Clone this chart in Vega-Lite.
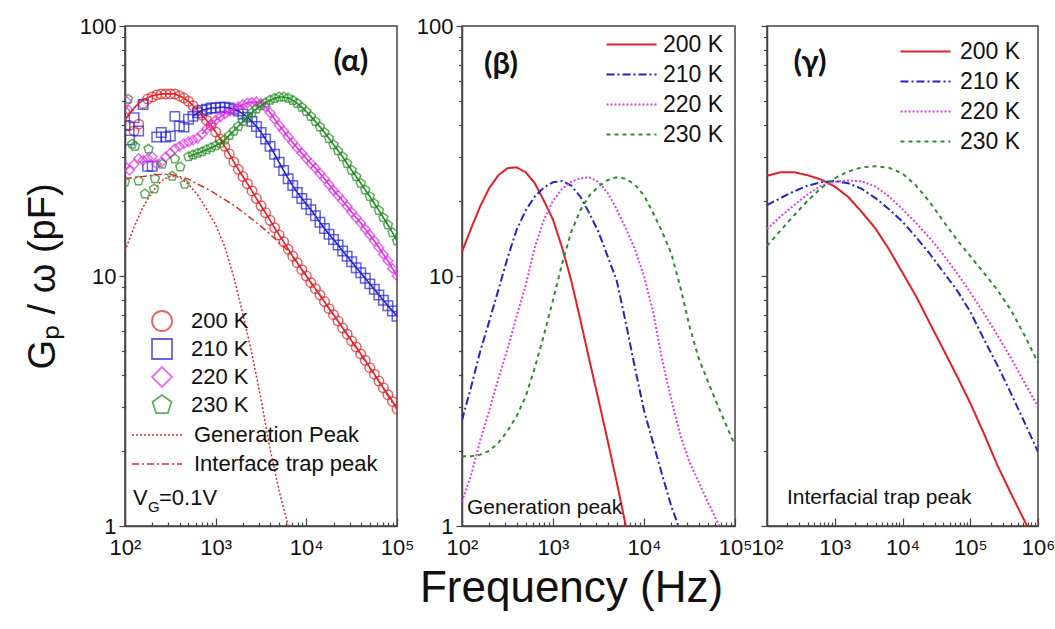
{
  "$schema": "https://vega.github.io/schema/vega-lite/v6.json",
  "background": "white",
  "padding": {"left": 23, "top": 14, "right": 0, "bottom": 5},
  "title": {"text": "Frequency (Hz)", "orient": "bottom", "anchor": "middle", "fontSize": 44, "font": "Liberation Sans", "fontWeight": "normal", "color": "#111", "offset": 8, "dx": 32},
  "config": {
    "font": "Liberation Sans",
    "view": {"stroke": "#444", "strokeWidth": 1.5},
    "axis": {"domainColor": "#444", "domainWidth": 1.5, "tickColor": "#444", "tickWidth": 1.2, "labelFont": "Liberation Sans", "labelFontSize": 22, "labelColor": "#111", "grid": false, "titleFont": "Liberation Sans", "titleColor": "#111", "labelFlush": false, "labelOverlap": false},
    "legend": {"labelFont": "Liberation Sans", "labelFontSize": 22, "labelColor": "#111", "padding": 0, "labelLimit": 400}
  },
  "datasets": {
    "am": [
      {"T":"200 K","f":100,"g":45,"fit":42},{"T":"200 K","f":112.2,"g":40,"fit":44.8},{"T":"200 K","f":125.9,"g":38,"fit":47},{"T":"200 K","f":141.3,"g":40.5,"fit":49},{"T":"200 K","f":158.5,"g":49,"fit":50.5},{"T":"200 K","f":177.8,"g":51,"fit":51.7},{"T":"200 K","f":199.5,"g":52,"fit":52.5},{"T":"200 K","f":223.9,"g":53,"fit":53.1},{"T":"200 K","f":251.2,"g":53.5,"fit":53.5},{"T":"200 K","f":281.8,"g":53.5,"fit":53.5},
      {"T":"200 K","f":316.2,"g":53.5,"fit":53.5},{"T":"200 K","f":354.8,"g":53.5,"fit":53.5},{"T":"200 K","f":398.1,"g":52.5,"fit":52.5},{"T":"200 K","f":446.7,"g":51.5,"fit":51.5},{"T":"200 K","f":501.2,"g":50,"fit":50},{"T":"200 K","f":562.3,"g":48,"fit":48},{"T":"200 K","f":631,"g":46,"fit":46},{"T":"200 K","f":707.9,"g":44,"fit":44},{"T":"200 K","f":794.3,"g":42,"fit":42},{"T":"200 K","f":891.3,"g":40,"fit":40},
      {"T":"200 K","f":1000,"g":37.7,"fit":37.7},{"T":"200 K","f":1122,"g":35.3,"fit":35.3},{"T":"200 K","f":1259,"g":33,"fit":33},{"T":"200 K","f":1413,"g":30.8,"fit":30.8},{"T":"200 K","f":1585,"g":28.6,"fit":28.6},{"T":"200 K","f":1778,"g":26.7,"fit":26.7},{"T":"200 K","f":1995,"g":25,"fit":25},{"T":"200 K","f":2239,"g":23.4,"fit":23.4},{"T":"200 K","f":2512,"g":21.9,"fit":21.9},{"T":"200 K","f":2818,"g":20.4,"fit":20.4},
      {"T":"200 K","f":3162,"g":19.1,"fit":19.1},{"T":"200 K","f":3548,"g":17.9,"fit":17.9},{"T":"200 K","f":3981,"g":16.7,"fit":16.7},{"T":"200 K","f":4467,"g":15.6,"fit":15.6},{"T":"200 K","f":5012,"g":14.6,"fit":14.6},{"T":"200 K","f":5623,"g":13.7,"fit":13.7},{"T":"200 K","f":6310,"g":12.8,"fit":12.8},{"T":"200 K","f":7079,"g":12,"fit":12},{"T":"200 K","f":7943,"g":11.3,"fit":11.3},{"T":"200 K","f":8913,"g":10.6,"fit":10.6},
      {"T":"200 K","f":10000,"g":10,"fit":10},{"T":"200 K","f":11220,"g":9.4,"fit":9.4},{"T":"200 K","f":12589,"g":8.9,"fit":8.9},{"T":"200 K","f":14125,"g":8.4,"fit":8.4},{"T":"200 K","f":15849,"g":7.9,"fit":7.9},{"T":"200 K","f":17783,"g":7.4,"fit":7.4},{"T":"200 K","f":19953,"g":7,"fit":7},{"T":"200 K","f":22387,"g":6.6,"fit":6.6},{"T":"200 K","f":25119,"g":6.2,"fit":6.2},{"T":"200 K","f":28184,"g":5.85,"fit":5.85},
      {"T":"200 K","f":31623,"g":5.5,"fit":5.5},{"T":"200 K","f":35481,"g":5.2,"fit":5.2},{"T":"200 K","f":39811,"g":4.88,"fit":4.88},{"T":"200 K","f":44668,"g":4.6,"fit":4.6},{"T":"200 K","f":50119,"g":4.3,"fit":4.3},{"T":"200 K","f":56234,"g":4.05,"fit":4.05},{"T":"200 K","f":63096,"g":3.8,"fit":3.8},{"T":"200 K","f":70795,"g":3.57,"fit":3.57},{"T":"200 K","f":79433,"g":3.35,"fit":3.35},{"T":"200 K","f":89125,"g":3.15,"fit":3.15},{"T":"200 K","f":100000,"g":2.94,"fit":2.94},

      {"T":"210 K","f":100,"g":40},{"T":"210 K","f":112.2,"g":35},{"T":"210 K","f":125.9,"g":43},{"T":"210 K","f":141.3,"g":38},{"T":"210 K","f":158.5,"g":48.5},{"T":"210 K","f":177.8,"g":27.5},{"T":"210 K","f":199.5,"g":27.5},{"T":"210 K","f":223.9,"g":36},{"T":"210 K","f":251.2,"g":37.5},{"T":"210 K","f":281.8,"g":36},
      {"T":"210 K","f":316.2,"g":36.3},{"T":"210 K","f":354.8,"g":43.5},{"T":"210 K","f":398.1,"g":39.8},{"T":"210 K","f":446.7,"g":39.4},{"T":"210 K","f":501.2,"g":42.4},{"T":"210 K","f":562.3,"g":43.5,"fit":43.5},{"T":"210 K","f":631,"g":45,"fit":45},{"T":"210 K","f":707.9,"g":46,"fit":46},{"T":"210 K","f":794.3,"g":46.5,"fit":46.5},{"T":"210 K","f":891.3,"g":47,"fit":47},
      {"T":"210 K","f":1000,"g":47,"fit":47},{"T":"210 K","f":1122,"g":47.3,"fit":47.3},{"T":"210 K","f":1259,"g":47.3,"fit":47.3},{"T":"210 K","f":1413,"g":47,"fit":47},{"T":"210 K","f":1585,"g":46.5,"fit":46.5},{"T":"210 K","f":1778,"g":45.7,"fit":45.7},{"T":"210 K","f":1995,"g":44.5,"fit":44.5},{"T":"210 K","f":2239,"g":43.2,"fit":43.2},{"T":"210 K","f":2512,"g":41.5,"fit":41.5},{"T":"210 K","f":2818,"g":39.6,"fit":39.6},
      {"T":"210 K","f":3162,"g":37.5,"fit":37.5},{"T":"210 K","f":3548,"g":35.3,"fit":35.3},{"T":"210 K","f":3981,"g":33,"fit":33},{"T":"210 K","f":4467,"g":30.7,"fit":30.7},{"T":"210 K","f":5012,"g":28.5,"fit":28.5},{"T":"210 K","f":5623,"g":26.4,"fit":26.4},{"T":"210 K","f":6310,"g":24.5,"fit":24.5},{"T":"210 K","f":7079,"g":23,"fit":23},{"T":"210 K","f":7943,"g":21.6,"fit":21.6},{"T":"210 K","f":8913,"g":20.4,"fit":20.4},
      {"T":"210 K","f":10000,"g":19.4,"fit":19.4},{"T":"210 K","f":11220,"g":18.4,"fit":18.4},{"T":"210 K","f":12589,"g":17.4,"fit":17.4},{"T":"210 K","f":14125,"g":16.4,"fit":16.4},{"T":"210 K","f":15849,"g":15.5,"fit":15.5},{"T":"210 K","f":17783,"g":14.7,"fit":14.7},{"T":"210 K","f":19953,"g":14,"fit":14},{"T":"210 K","f":22387,"g":13.3,"fit":13.3},{"T":"210 K","f":25119,"g":12.6,"fit":12.6},{"T":"210 K","f":28184,"g":12,"fit":12},
      {"T":"210 K","f":31623,"g":11.4,"fit":11.4},{"T":"210 K","f":35481,"g":10.8,"fit":10.8},{"T":"210 K","f":39811,"g":10.3,"fit":10.3},{"T":"210 K","f":44668,"g":9.8,"fit":9.8},{"T":"210 K","f":50119,"g":9.3,"fit":9.3},{"T":"210 K","f":56234,"g":8.85,"fit":8.85},{"T":"210 K","f":63096,"g":8.4,"fit":8.4},{"T":"210 K","f":70795,"g":8,"fit":8},{"T":"210 K","f":79433,"g":7.6,"fit":7.6},{"T":"210 K","f":89125,"g":7.25,"fit":7.25},{"T":"210 K","f":100000,"g":6.9,"fit":6.9},

      {"T":"220 K","f":104,"g":50},{"T":"220 K","f":110,"g":46},
      {"T":"220 K","f":100,"g":27.5},{"T":"220 K","f":112.2,"g":26.5},{"T":"220 K","f":125.9,"g":28},{"T":"220 K","f":141.3,"g":29.5},{"T":"220 K","f":158.5,"g":29},{"T":"220 K","f":177.8,"g":29.5},{"T":"220 K","f":199.5,"g":30},{"T":"220 K","f":223.9,"g":28},{"T":"220 K","f":251.2,"g":28.5},{"T":"220 K","f":281.8,"g":30},
      {"T":"220 K","f":316.2,"g":31},{"T":"220 K","f":354.8,"g":32.3},{"T":"220 K","f":398.1,"g":33},{"T":"220 K","f":446.7,"g":33.8},{"T":"220 K","f":501.2,"g":34.4},{"T":"220 K","f":562.3,"g":35},{"T":"220 K","f":631,"g":35.6},{"T":"220 K","f":707.9,"g":37,"fit":37},{"T":"220 K","f":794.3,"g":38.8,"fit":38.8},{"T":"220 K","f":891.3,"g":40.5,"fit":40.5},
      {"T":"220 K","f":1000,"g":42,"fit":42},{"T":"220 K","f":1122,"g":43.3,"fit":43.3},{"T":"220 K","f":1259,"g":44.5,"fit":44.5},{"T":"220 K","f":1413,"g":45.5,"fit":45.5},{"T":"220 K","f":1585,"g":46.5,"fit":46.5},{"T":"220 K","f":1778,"g":47.5,"fit":47.5},{"T":"220 K","f":1995,"g":48.5,"fit":48.5},{"T":"220 K","f":2239,"g":49.2,"fit":49.2},{"T":"220 K","f":2512,"g":49.5,"fit":49.5},{"T":"220 K","f":2818,"g":49.7,"fit":49.7},
      {"T":"220 K","f":3162,"g":49,"fit":49},{"T":"220 K","f":3548,"g":47.5,"fit":47.5},{"T":"220 K","f":3981,"g":45,"fit":45},{"T":"220 K","f":4467,"g":42.4,"fit":42.4},{"T":"220 K","f":5012,"g":40,"fit":40},{"T":"220 K","f":5623,"g":38,"fit":38},{"T":"220 K","f":6310,"g":36,"fit":36},{"T":"220 K","f":7079,"g":34.2,"fit":34.2},{"T":"220 K","f":7943,"g":32.5,"fit":32.5},{"T":"220 K","f":8913,"g":31,"fit":31},
      {"T":"220 K","f":10000,"g":29.5,"fit":29.5},{"T":"220 K","f":11220,"g":28.2,"fit":28.2},{"T":"220 K","f":12589,"g":27,"fit":27},{"T":"220 K","f":14125,"g":25.7,"fit":25.7},{"T":"220 K","f":15849,"g":24.5,"fit":24.5},{"T":"220 K","f":17783,"g":23.2,"fit":23.2},{"T":"220 K","f":19953,"g":22,"fit":22},{"T":"220 K","f":22387,"g":21,"fit":21},{"T":"220 K","f":25119,"g":20,"fit":20},{"T":"220 K","f":28184,"g":19,"fit":19},
      {"T":"220 K","f":31623,"g":18,"fit":18},{"T":"220 K","f":35481,"g":17.1,"fit":17.1},{"T":"220 K","f":39811,"g":16.3,"fit":16.3},{"T":"220 K","f":44668,"g":15.4,"fit":15.4},{"T":"220 K","f":50119,"g":14.6,"fit":14.6},{"T":"220 K","f":56234,"g":13.8,"fit":13.8},{"T":"220 K","f":63096,"g":13,"fit":13},{"T":"220 K","f":70795,"g":12.2,"fit":12.2},{"T":"220 K","f":79433,"g":11.5,"fit":11.5},{"T":"220 K","f":89125,"g":10.7,"fit":10.7},{"T":"220 K","f":100000,"g":10,"fit":10},

      {"T":"230 K","f":100,"g":23.8},{"T":"230 K","f":108,"g":51},{"T":"230 K","f":120,"g":33.7},{"T":"230 K","f":129,"g":33},{"T":"230 K","f":141,"g":24},{"T":"230 K","f":166,"g":21.3},{"T":"230 K","f":182,"g":32.2},{"T":"230 K","f":209,"g":22.3},{"T":"230 K","f":214,"g":24.5},{"T":"230 K","f":257,"g":28},{"T":"230 K","f":331,"g":25.1},{"T":"230 K","f":355,"g":29.4},{"T":"230 K","f":407,"g":27.3},{"T":"230 K","f":457,"g":23.3},
      {"T":"230 K","f":501.2,"g":30,"fit":30},{"T":"230 K","f":562.3,"g":30.5,"fit":30.5},{"T":"230 K","f":631,"g":31,"fit":31},{"T":"230 K","f":707.9,"g":31.4,"fit":31.4},{"T":"230 K","f":794.3,"g":32,"fit":32},{"T":"230 K","f":891.3,"g":32.6,"fit":32.6},
      {"T":"230 K","f":1000,"g":33.2,"fit":33.2},{"T":"230 K","f":1122,"g":34,"fit":34},{"T":"230 K","f":1259,"g":35,"fit":35},{"T":"230 K","f":1413,"g":36.5,"fit":36.5},{"T":"230 K","f":1585,"g":38,"fit":38},{"T":"230 K","f":1778,"g":39.7,"fit":39.7},{"T":"230 K","f":1995,"g":41.5,"fit":41.5},{"T":"230 K","f":2239,"g":43.3,"fit":43.3},{"T":"230 K","f":2512,"g":45,"fit":45},{"T":"230 K","f":2818,"g":46.6,"fit":46.6},
      {"T":"230 K","f":3162,"g":48,"fit":48},{"T":"230 K","f":3548,"g":49.3,"fit":49.3},{"T":"230 K","f":3981,"g":50.5,"fit":50.5},{"T":"230 K","f":4467,"g":51.3,"fit":51.3},{"T":"230 K","f":5012,"g":52,"fit":52},{"T":"230 K","f":5623,"g":52,"fit":52},{"T":"230 K","f":6310,"g":51.5,"fit":51.5},{"T":"230 K","f":7079,"g":50.4,"fit":50.4},{"T":"230 K","f":7943,"g":49,"fit":49},{"T":"230 K","f":8913,"g":47.3,"fit":47.3},
      {"T":"230 K","f":10000,"g":45.5,"fit":45.5},{"T":"230 K","f":11220,"g":43.5,"fit":43.5},{"T":"230 K","f":12589,"g":41.5,"fit":41.5},{"T":"230 K","f":14125,"g":39.5,"fit":39.5},{"T":"230 K","f":15849,"g":37.5,"fit":37.5},{"T":"230 K","f":17783,"g":35.5,"fit":35.5},{"T":"230 K","f":19953,"g":33.5,"fit":33.5},{"T":"230 K","f":22387,"g":31.7,"fit":31.7},{"T":"230 K","f":25119,"g":30,"fit":30},{"T":"230 K","f":28184,"g":28.2,"fit":28.2},
      {"T":"230 K","f":31623,"g":26.5,"fit":26.5},{"T":"230 K","f":35481,"g":25,"fit":25},{"T":"230 K","f":39811,"g":23.5,"fit":23.5},{"T":"230 K","f":44668,"g":22.1,"fit":22.1},{"T":"230 K","f":50119,"g":20.8,"fit":20.8},{"T":"230 K","f":56234,"g":19.5,"fit":19.5},{"T":"230 K","f":63096,"g":18.3,"fit":18.3},{"T":"230 K","f":70795,"g":17.1,"fit":17.1},{"T":"230 K","f":79433,"g":16,"fit":16},{"T":"230 K","f":89125,"g":14.9,"fit":14.9},{"T":"230 K","f":100000,"g":13.8,"fit":13.8}
    ],
    "gi": [
      {"k":"Generation Peak","f":100,"g":12.6},{"k":"Generation Peak","f":125.9,"g":15.7},{"k":"Generation Peak","f":158.5,"g":18.9},{"k":"Generation Peak","f":199.5,"g":21.7},{"k":"Generation Peak","f":251.2,"g":24},{"k":"Generation Peak","f":316.2,"g":25.1},{"k":"Generation Peak","f":398.1,"g":24.9},{"k":"Generation Peak","f":501.2,"g":23.3},{"k":"Generation Peak","f":631,"g":21.1},{"k":"Generation Peak","f":794.3,"g":18.5},{"k":"Generation Peak","f":1000,"g":16},{"k":"Generation Peak","f":1259,"g":13.1},{"k":"Generation Peak","f":1585,"g":9.9},{"k":"Generation Peak","f":1995,"g":7.05},{"k":"Generation Peak","f":2512,"g":4.88},{"k":"Generation Peak","f":3162,"g":3.22},{"k":"Generation Peak","f":3981,"g":2.03},{"k":"Generation Peak","f":5012,"g":1.38},{"k":"Generation Peak","f":6310,"g":1},{"k":"Generation Peak","f":7943,"g":0.7},
      {"k":"Interface trap peak","f":100,"g":24.5},{"k":"Interface trap peak","f":125.9,"g":24.8},{"k":"Interface trap peak","f":158.5,"g":25},{"k":"Interface trap peak","f":199.5,"g":25.3},{"k":"Interface trap peak","f":251.2,"g":25.5},{"k":"Interface trap peak","f":316.2,"g":25.5},{"k":"Interface trap peak","f":398.1,"g":25},{"k":"Interface trap peak","f":501.2,"g":24.4},{"k":"Interface trap peak","f":631,"g":23.3},{"k":"Interface trap peak","f":794.3,"g":22.4},{"k":"Interface trap peak","f":1000,"g":21.3},{"k":"Interface trap peak","f":1259,"g":20.2},{"k":"Interface trap peak","f":1585,"g":19.2},{"k":"Interface trap peak","f":1995,"g":18},{"k":"Interface trap peak","f":2512,"g":16.9},{"k":"Interface trap peak","f":3162,"g":15.8},{"k":"Interface trap peak","f":3981,"g":14.7},{"k":"Interface trap peak","f":5012,"g":13.6},{"k":"Interface trap peak","f":6310,"g":12.6},{"k":"Interface trap peak","f":7943,"g":11.3},{"k":"Interface trap peak","f":10000,"g":10},{"k":"Interface trap peak","f":15849,"g":7.9},{"k":"Interface trap peak","f":25119,"g":6.2},{"k":"Interface trap peak","f":39811,"g":4.85},{"k":"Interface trap peak","f":63096,"g":3.78},{"k":"Interface trap peak","f":100000,"g":2.92}
    ],
    "b": [
      {"T":"200 K","f":100,"g":12.5},{"T":"200 K","f":125.9,"g":15.5},{"T":"200 K","f":158.5,"g":19},{"T":"200 K","f":199.5,"g":22.5},{"T":"200 K","f":251.2,"g":25.3},{"T":"200 K","f":316.2,"g":27},{"T":"200 K","f":398.1,"g":27.2},{"T":"200 K","f":501.2,"g":26},{"T":"200 K","f":631,"g":23.5},{"T":"200 K","f":794.3,"g":20},{"T":"200 K","f":1000,"g":16.8},{"T":"200 K","f":1259,"g":13},{"T":"200 K","f":1585,"g":9.6},{"T":"200 K","f":1995,"g":6.7},{"T":"200 K","f":2512,"g":4.6},{"T":"200 K","f":3162,"g":3.2},{"T":"200 K","f":3981,"g":2.2},{"T":"200 K","f":5012,"g":1.5},{"T":"200 K","f":6310,"g":1},{"T":"200 K","f":7943,"g":0.68},
      {"T":"210 K","f":100,"g":2.65},{"T":"210 K","f":125.9,"g":3.6},{"T":"210 K","f":158.5,"g":5},{"T":"210 K","f":199.5,"g":6.6},{"T":"210 K","f":251.2,"g":8.8},{"T":"210 K","f":316.2,"g":11.8},{"T":"210 K","f":398.1,"g":15.3},{"T":"210 K","f":501.2,"g":18.3},{"T":"210 K","f":631,"g":20.8},{"T":"210 K","f":794.3,"g":22.6},{"T":"210 K","f":1000,"g":23.7},{"T":"210 K","f":1259,"g":24},{"T":"210 K","f":1585,"g":23},{"T":"210 K","f":1995,"g":20.8},{"T":"210 K","f":2512,"g":17.8},{"T":"210 K","f":3162,"g":15},{"T":"210 K","f":3981,"g":12},{"T":"210 K","f":5012,"g":9.6},{"T":"210 K","f":6310,"g":6.5},{"T":"210 K","f":7943,"g":4.3},{"T":"210 K","f":10000,"g":2.9},{"T":"210 K","f":12589,"g":2.15},{"T":"210 K","f":15849,"g":1.6},{"T":"210 K","f":19953,"g":1.2},{"T":"210 K","f":25119,"g":0.95},{"T":"210 K","f":31623,"g":0.75},
      {"T":"220 K","f":100,"g":1.25},{"T":"220 K","f":125.9,"g":1.6},{"T":"220 K","f":158.5,"g":2.2},{"T":"220 K","f":199.5,"g":2.9},{"T":"220 K","f":251.2,"g":3.9},{"T":"220 K","f":316.2,"g":5.1},{"T":"220 K","f":398.1,"g":6.9},{"T":"220 K","f":501.2,"g":9.2},{"T":"220 K","f":631,"g":13},{"T":"220 K","f":794.3,"g":16.8},{"T":"220 K","f":1000,"g":20},{"T":"220 K","f":1259,"g":22.3},{"T":"220 K","f":1585,"g":23.8},{"T":"220 K","f":1995,"g":24.6},{"T":"220 K","f":2512,"g":24.8},{"T":"220 K","f":3162,"g":23.8},{"T":"220 K","f":3981,"g":21.5},{"T":"220 K","f":5012,"g":18.5},{"T":"220 K","f":6310,"g":15.5},{"T":"220 K","f":7943,"g":12.8},{"T":"220 K","f":10000,"g":10},{"T":"220 K","f":12589,"g":7.2},{"T":"220 K","f":15849,"g":4.6},{"T":"220 K","f":19953,"g":3.2},{"T":"220 K","f":25119,"g":2.3},{"T":"220 K","f":31623,"g":1.8},{"T":"220 K","f":39811,"g":1.5},{"T":"220 K","f":50119,"g":1.25},{"T":"220 K","f":63096,"g":1.05},{"T":"220 K","f":79433,"g":0.9},
      {"T":"230 K","f":100,"g":1.9},{"T":"230 K","f":125.9,"g":1.9},{"T":"230 K","f":158.5,"g":1.93},{"T":"230 K","f":199.5,"g":2},{"T":"230 K","f":251.2,"g":2.15},{"T":"230 K","f":316.2,"g":2.4},{"T":"230 K","f":398.1,"g":2.75},{"T":"230 K","f":501.2,"g":3.3},{"T":"230 K","f":631,"g":4.3},{"T":"230 K","f":794.3,"g":5.8},{"T":"230 K","f":1000,"g":8},{"T":"230 K","f":1259,"g":11.2},{"T":"230 K","f":1585,"g":15},{"T":"230 K","f":1995,"g":18.3},{"T":"230 K","f":2512,"g":21},{"T":"230 K","f":3162,"g":22.8},{"T":"230 K","f":3981,"g":24.2},{"T":"230 K","f":5012,"g":24.8},{"T":"230 K","f":6310,"g":24.5},{"T":"230 K","f":7943,"g":23.2},{"T":"230 K","f":10000,"g":21},{"T":"230 K","f":12589,"g":17.9},{"T":"230 K","f":15849,"g":15},{"T":"230 K","f":19953,"g":12.3},{"T":"230 K","f":25119,"g":9},{"T":"230 K","f":31623,"g":6.3},{"T":"230 K","f":39811,"g":4.7},{"T":"230 K","f":50119,"g":3.8},{"T":"230 K","f":63096,"g":3.1},{"T":"230 K","f":79433,"g":2.55},{"T":"230 K","f":100000,"g":2.1}
    ],
    "c": [
      {"T":"200 K","f":100,"g":25.2},{"T":"200 K","f":158.5,"g":26},{"T":"200 K","f":251.2,"g":26},{"T":"200 K","f":398.1,"g":25.3},{"T":"200 K","f":631,"g":24.3},{"T":"200 K","f":1000,"g":22.8},{"T":"200 K","f":1585,"g":20.7},{"T":"200 K","f":2512,"g":18},{"T":"200 K","f":3981,"g":15.5},{"T":"200 K","f":6310,"g":12.8},{"T":"200 K","f":10000,"g":10.3},{"T":"200 K","f":15849,"g":8.3},{"T":"200 K","f":25119,"g":6.5},{"T":"200 K","f":39811,"g":5.1},{"T":"200 K","f":63096,"g":4},{"T":"200 K","f":100000,"g":3.1},{"T":"200 K","f":158489,"g":2.35},{"T":"200 K","f":251189,"g":1.75},{"T":"200 K","f":398107,"g":1.35},{"T":"200 K","f":630957,"g":1.05},{"T":"200 K","f":1000000,"g":0.82},
      {"T":"210 K","f":100,"g":19.2},{"T":"210 K","f":158.5,"g":20.5},{"T":"210 K","f":251.2,"g":21.8},{"T":"210 K","f":398.1,"g":23},{"T":"210 K","f":631,"g":23.7},{"T":"210 K","f":1000,"g":24},{"T":"210 K","f":1585,"g":23.5},{"T":"210 K","f":2512,"g":22.3},{"T":"210 K","f":3981,"g":20.5},{"T":"210 K","f":6310,"g":18.5},{"T":"210 K","f":10000,"g":16.5},{"T":"210 K","f":15849,"g":14.3},{"T":"210 K","f":25119,"g":12.3},{"T":"210 K","f":39811,"g":10.4},{"T":"210 K","f":63096,"g":8.8},{"T":"210 K","f":100000,"g":7.2},{"T":"210 K","f":158489,"g":5.6},{"T":"210 K","f":251189,"g":4.4},{"T":"210 K","f":398107,"g":3.4},{"T":"210 K","f":630957,"g":2.6},{"T":"210 K","f":1000000,"g":1.98},
      {"T":"220 K","f":100,"g":15.4},{"T":"220 K","f":158.5,"g":17.3},{"T":"220 K","f":251.2,"g":19.2},{"T":"220 K","f":398.1,"g":21.2},{"T":"220 K","f":631,"g":23},{"T":"220 K","f":1000,"g":23.8},{"T":"220 K","f":1585,"g":24.1},{"T":"220 K","f":2512,"g":23.9},{"T":"220 K","f":3981,"g":22.8},{"T":"220 K","f":6310,"g":20.8},{"T":"220 K","f":10000,"g":18.5},{"T":"220 K","f":15849,"g":16.3},{"T":"220 K","f":25119,"g":14.2},{"T":"220 K","f":39811,"g":12.2},{"T":"220 K","f":63096,"g":10.3},{"T":"220 K","f":100000,"g":8.6},{"T":"220 K","f":158489,"g":7.1},{"T":"220 K","f":251189,"g":5.8},{"T":"220 K","f":398107,"g":4.7},{"T":"220 K","f":630957,"g":3.75},{"T":"220 K","f":1000000,"g":3.0},
      {"T":"230 K","f":100,"g":13.2},{"T":"230 K","f":158.5,"g":15.2},{"T":"230 K","f":251.2,"g":17.5},{"T":"230 K","f":398.1,"g":20},{"T":"230 K","f":631,"g":22.5},{"T":"230 K","f":1000,"g":24.6},{"T":"230 K","f":1585,"g":26.2},{"T":"230 K","f":2512,"g":27.2},{"T":"230 K","f":3981,"g":27.5},{"T":"230 K","f":6310,"g":27.1},{"T":"230 K","f":10000,"g":25.7},{"T":"230 K","f":15849,"g":23},{"T":"230 K","f":25119,"g":19.8},{"T":"230 K","f":39811,"g":16.6},{"T":"230 K","f":63096,"g":14},{"T":"230 K","f":100000,"g":12},{"T":"230 K","f":158489,"g":10.3},{"T":"230 K","f":251189,"g":8.8},{"T":"230 K","f":398107,"g":7.3},{"T":"230 K","f":630957,"g":5.8},{"T":"230 K","f":1000000,"g":4.5}
    ]
  },
  "spacing": 65,
  "bounds": "flush",
  "resolve": {"scale": {"color": "independent", "shape": "independent", "strokeDash": "independent"}, "legend": {"color": "independent", "shape": "independent", "strokeDash": "independent"}},
  "hconcat": [
    {
      "width": 272, "height": 500,
      "resolve": {"axis": {"x": "independent", "y": "independent"}},
      "layer": [
        {
          "data": {"name": "am"},
          "mark": {"type": "point", "filled": false, "size": 90, "strokeWidth": 1.5, "clip": true},
          "encoding": {
            "x": {"field": "f", "type": "quantitative", "scale": {"type": "log", "domain": [100, 100000]},
                  "axis": {"orient": "bottom", "values": [100, 1000, 10000, 100000], "labelExpr": "datum.value==100?'10²':datum.value==1000?'10³':datum.value==10000?'10⁴':datum.value==100000?'10⁵':'10⁶'", "tickSize": -8, "labelPadding": 19, "title": null}},
            "y": {"field": "g", "type": "quantitative", "scale": {"type": "log", "domain": [1, 100]},
                  "axis": {"orient": "left", "values": [1, 10, 100], "labelExpr": "format(datum.value,'d')", "tickSize": 6, "labelPadding": 3, "title": "Gₚ / ω (pF)", "titleFontSize": 38, "titleFontWeight": "normal", "titlePadding": 17}},
            "color": {"field": "T", "type": "nominal", "scale": {"domain": ["200 K", "210 K", "220 K", "230 K"], "range": ["#e41f26", "#2323d3", "#e22ee6", "#228b22"]},
                      "legend": {"title": null, "orient": "none", "legendX": 26, "legendY": 284, "symbolSize": 400, "symbolStrokeWidth": 1.8, "labelOffset": 18, "rowPadding": 0}},
            "shape": {"field": "T", "type": "nominal", "scale": {"domain": ["200 K", "210 K", "220 K", "230 K"], "range": ["circle", "square", "diamond", "M0,-1L0.951,-0.309L0.588,0.809L-0.588,0.809L-0.951,-0.309Z"]},
                      "legend": {"title": null, "orient": "none", "legendX": 26, "legendY": 284, "symbolSize": 400, "symbolStrokeWidth": 1.8, "labelOffset": 18, "rowPadding": 0}}
          }
        },
        {
          "data": {"name": "am"},
          "transform": [{"filter": "isValid(datum.fit)"}],
          "mark": {"type": "line", "strokeWidth": 1.6, "clip": true},
          "encoding": {
            "x": {"field": "f", "type": "quantitative", "axis": {"orient": "bottom", "values": [200,300,400,500,600,700,800,900,2000,3000,4000,5000,6000,7000,8000,9000,20000,30000,40000,50000,60000,70000,80000,90000], "tickSize": -4, "labels": false, "domain": false, "title": null}},
            "y": {"field": "fit", "type": "quantitative", "axis": {"orient": "left", "values": [2,3,4,5,6,7,8,9,20,30,40,50,60,70,80,90], "tickSize": 3.5, "labels": false, "domain": false, "title": null}},
            "color": {"field": "T", "type": "nominal", "legend": null}
          }
        },
        {
          "data": {"name": "gi"},
          "mark": {"type": "line", "strokeWidth": 1.5, "color": "#d62f2f", "clip": true},
          "encoding": {
            "x": {"field": "f", "type": "quantitative", "axis": null},
            "y": {"field": "g", "type": "quantitative", "axis": null},
            "strokeDash": {"field": "k", "type": "nominal", "scale": {"domain": ["Generation Peak", "Interface trap peak"], "range": [[2, 2], [7, 3, 2, 3]]},
                           "legend": {"title": null, "orient": "none", "legendX": 21, "legendY": 398, "symbolType": "M-2.5,0H2.5", "symbolSize": 400, "symbolStrokeColor": "#d62f2f", "symbolStrokeWidth": 1.6, "labelOffset": 26, "rowPadding": 7}}
          }
        },
        {
          "data": {"values": [{"f": 31000, "g": 72, "t": "(α)"}]},
          "mark": {"type": "text", "font": "Lato", "fontWeight": "bold", "fontSize": 31, "color": "#111"},
          "encoding": {"x": {"field": "f", "type": "quantitative", "axis": null}, "y": {"field": "g", "type": "quantitative", "axis": null}, "text": {"field": "t"}}
        },
        {
          "data": {"values": [{"f": 122.5, "g": 1.21}]},
          "layer": [
            {"mark": {"type": "text", "text": "V", "align": "left", "baseline": "alphabetic", "fontSize": 22, "color": "#111"}},
            {"mark": {"type": "text", "text": "G", "align": "left", "baseline": "alphabetic", "fontSize": 15, "dx": 15, "dy": 7, "color": "#111"}},
            {"mark": {"type": "text", "text": "=0.1V", "align": "left", "baseline": "alphabetic", "fontSize": 22, "dx": 26, "color": "#111"}}
          ],
          "encoding": {"x": {"field": "f", "type": "quantitative", "axis": null}, "y": {"field": "g", "type": "quantitative", "axis": null}}
        }
      ]
    },
    {
      "spacing": 32,
      "bounds": "flush",
      "resolve": {"scale": {"color": "independent", "strokeDash": "independent"}, "legend": {"color": "independent", "strokeDash": "independent"}},
      "hconcat": [
        {
          "width": 273, "height": 500,
          "resolve": {"axis": {"x": "independent", "y": "independent"}},
          "layer": [
            {
              "data": {"name": "b"},
              "mark": {"type": "line", "strokeWidth": 2, "clip": true},
              "encoding": {
                "x": {"field": "f", "type": "quantitative", "scale": {"type": "log", "domain": [100, 100000]},
                      "axis": {"orient": "bottom", "values": [100, 1000, 10000, 100000], "labelExpr": "datum.value==100?'10²':datum.value==1000?'10³':datum.value==10000?'10⁴':datum.value==100000?'10⁵':'10⁶'", "tickSize": -8, "labelPadding": 19, "title": null}},
                "y": {"field": "g", "type": "quantitative", "scale": {"type": "log", "domain": [1, 100]},
                      "axis": {"orient": "left", "values": [1, 10, 100], "labelExpr": "format(datum.value,'d')", "tickSize": 6, "labelPadding": 3, "title": null}},
                "color": {"field": "T", "type": "nominal", "scale": {"domain": ["200 K", "210 K", "220 K", "230 K"], "range": ["#e41f26", "#2424c8", "#e040e0", "#2e8b2e"]},
                          "legend": {"title": null, "orient": "none", "legendX": 158, "legendY": 7, "symbolType": "M-2.5,0H2.5", "symbolSize": 400, "symbolStrokeWidth": 2, "labelOffset": 20, "rowPadding": 6, "labelFontSize": 23}},
                "strokeDash": {"field": "T", "type": "nominal", "scale": {"domain": ["200 K", "210 K", "220 K", "230 K"], "range": [[1, 0], [8, 3, 2, 3], [2, 2], [4, 4]]},
                          "legend": {"title": null, "orient": "none", "legendX": 158, "legendY": 7, "symbolType": "M-2.5,0H2.5", "symbolSize": 400, "symbolStrokeWidth": 2, "labelOffset": 20, "rowPadding": 6, "labelFontSize": 23}}
              }
            },
            {
              "data": {"values": [{"f": 268, "g": 70, "t": "(β)"}]},
              "mark": {"type": "text", "font": "Lato", "fontWeight": "bold", "fontSize": 31, "color": "#111"},
              "encoding": {
                "x": {"field": "f", "type": "quantitative", "axis": {"orient": "bottom", "values": [200,300,400,500,600,700,800,900,2000,3000,4000,5000,6000,7000,8000,9000,20000,30000,40000,50000,60000,70000,80000,90000], "tickSize": -4, "labels": false, "domain": false, "title": null}},
                "y": {"field": "g", "type": "quantitative", "axis": {"orient": "left", "values": [2,3,4,5,6,7,8,9,20,30,40,50,60,70,80,90], "tickSize": 3.5, "labels": false, "domain": false, "title": null}},
                "text": {"field": "t"}
              }
            },
            {
              "data": {"values": [{"f": 113.5, "g": 1.117, "t": "Generation peak"}]},
              "mark": {"type": "text", "align": "left", "baseline": "alphabetic", "fontSize": 21, "color": "#111"},
              "encoding": {"x": {"field": "f", "type": "quantitative", "axis": null}, "y": {"field": "g", "type": "quantitative", "axis": null}, "text": {"field": "t"}}
            }
          ]
        },
        {
          "width": 271, "height": 500,
          "resolve": {"axis": {"x": "independent", "y": "independent"}},
          "layer": [
            {
              "data": {"name": "c"},
              "mark": {"type": "line", "strokeWidth": 2, "clip": true},
              "encoding": {
                "x": {"field": "f", "type": "quantitative", "scale": {"type": "log", "domain": [100, 1000000]},
                      "axis": {"orient": "bottom", "values": [100, 1000, 10000, 100000, 1000000], "labelExpr": "datum.value==100?'10²':datum.value==1000?'10³':datum.value==10000?'10⁴':datum.value==100000?'10⁵':'10⁶'", "tickSize": -8, "labelPadding": 19, "title": null}},
                "y": {"field": "g", "type": "quantitative", "scale": {"type": "log", "domain": [1, 100]},
                      "axis": {"orient": "left", "values": [1, 10, 100], "labels": false, "tickSize": 6, "title": null}},
                "color": {"field": "T", "type": "nominal", "scale": {"domain": ["200 K", "210 K", "220 K", "230 K"], "range": ["#e41f26", "#2424c8", "#e040e0", "#2e8b2e"]},
                          "legend": {"title": null, "orient": "none", "legendX": 147, "legendY": 14, "symbolType": "M-2.5,0H2.5", "symbolSize": 400, "symbolStrokeWidth": 2, "labelOffset": 23, "rowPadding": 6, "labelFontSize": 23}},
                "strokeDash": {"field": "T", "type": "nominal", "scale": {"domain": ["200 K", "210 K", "220 K", "230 K"], "range": [[1, 0], [8, 3, 2, 3], [2, 2], [4, 4]]},
                          "legend": {"title": null, "orient": "none", "legendX": 147, "legendY": 14, "symbolType": "M-2.5,0H2.5", "symbolSize": 400, "symbolStrokeWidth": 2, "labelOffset": 23, "rowPadding": 6, "labelFontSize": 23}}
              }
            },
            {
              "data": {"values": [{"f": 432, "g": 71, "t": "(γ)"}]},
              "mark": {"type": "text", "font": "Lato", "fontWeight": "bold", "fontSize": 31, "color": "#111"},
              "encoding": {
                "x": {"field": "f", "type": "quantitative", "axis": {"orient": "bottom", "values": [200,300,400,500,600,700,800,900,2000,3000,4000,5000,6000,7000,8000,9000,20000,30000,40000,50000,60000,70000,80000,90000,200000,300000,400000,500000,600000,700000,800000,900000], "tickSize": -4, "labels": false, "domain": false, "title": null}},
                "y": {"field": "g", "type": "quantitative", "axis": {"orient": "left", "values": [2,3,4,5,6,7,8,9,20,30,40,50,60,70,80,90], "tickSize": 3.5, "labels": false, "domain": false, "title": null}},
                "text": {"field": "t"}
              }
            },
            {
              "data": {"values": [{"f": 197, "g": 1.225, "t": "Interfacial trap peak"}]},
              "mark": {"type": "text", "align": "left", "baseline": "alphabetic", "fontSize": 21, "color": "#111"},
              "encoding": {"x": {"field": "f", "type": "quantitative", "axis": null}, "y": {"field": "g", "type": "quantitative", "axis": null}, "text": {"field": "t"}}
            }
          ]
        }
      ]
    }
  ]
}
